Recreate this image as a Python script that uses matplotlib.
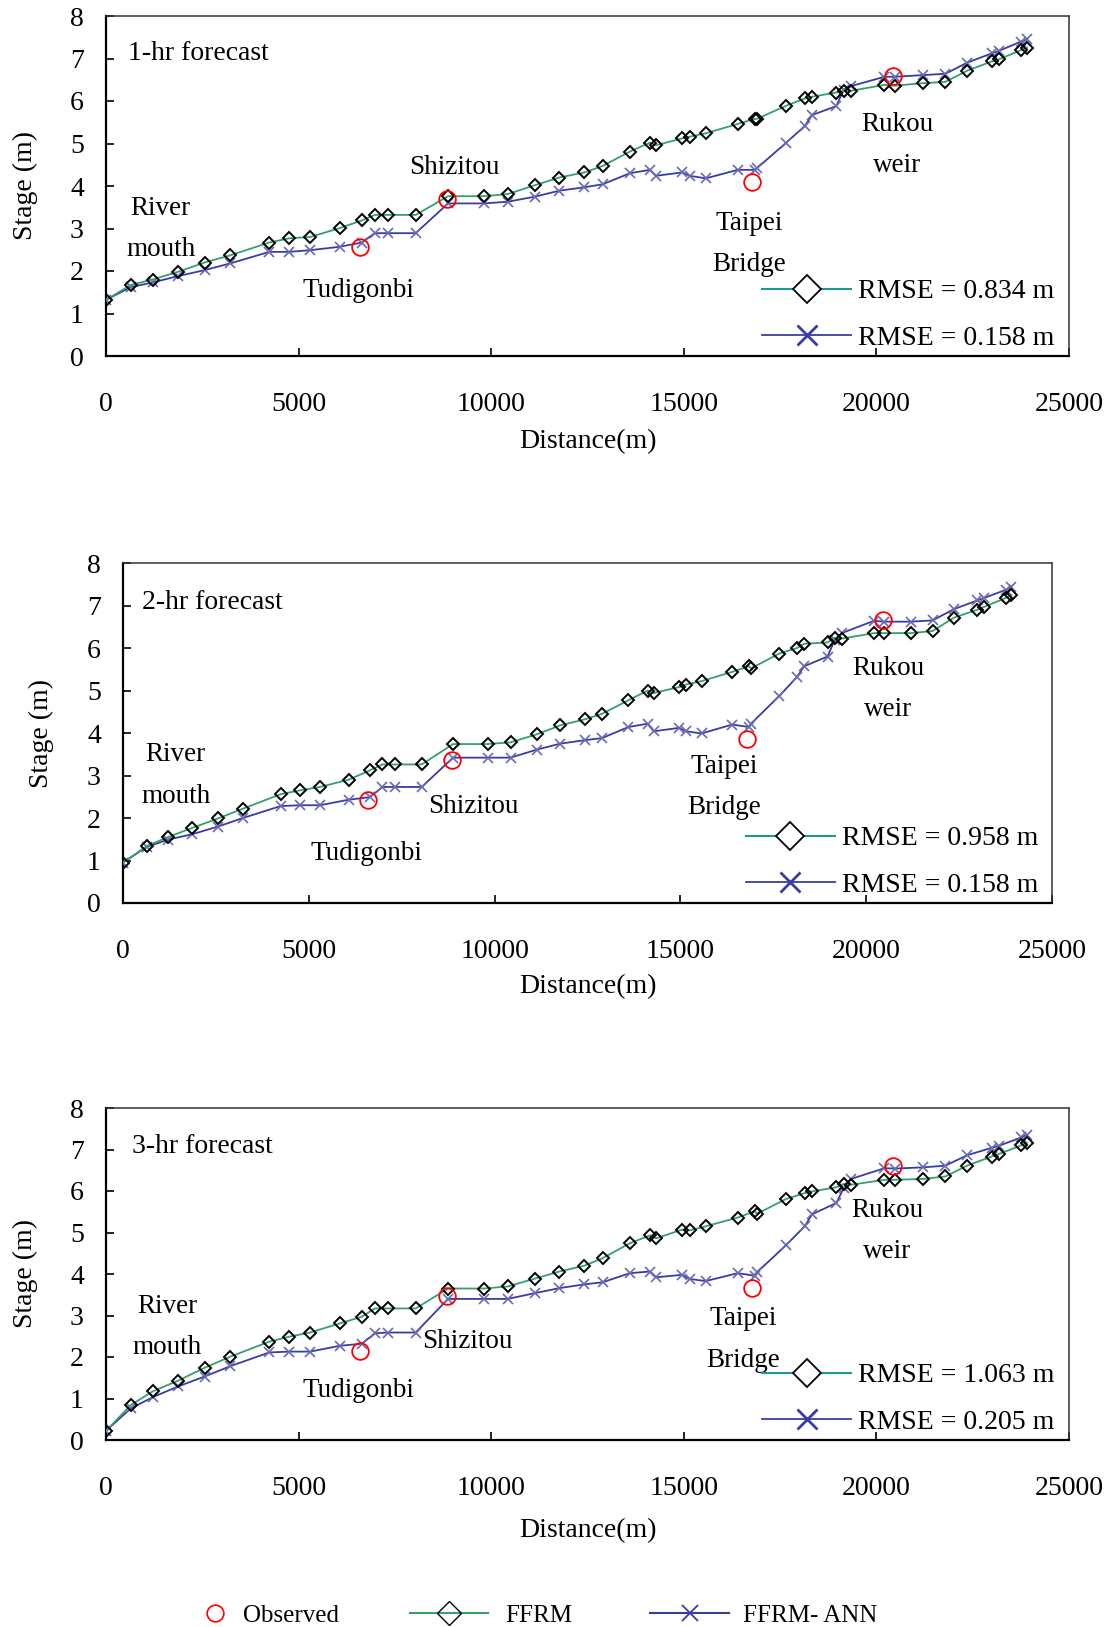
import numpy as np
import matplotlib
matplotlib.use('Agg')
import matplotlib.pyplot as plt
from matplotlib.lines import Line2D

plt.rcParams['font.family'] = ['Liberation Serif', 'DejaVu Serif']

# distance of each computational section (m)
dist = [0, 640, 1210, 1870, 2560, 3230, 4240, 4760, 5300, 6070,
        6640, 6980, 7310, 8040, 8880, 9810, 10430, 11140, 11770, 12420,
        12890, 13600, 14120, 14280, 14960, 15150, 15570, 16400, 16840, 16900,
        17660, 18140, 18330, 18960, 19150, 19340, 20210, 20480, 21210, 21790,
        22350, 22990, 23180, 23760, 23910]

# 1-hr forecast
ffrm_1 = [1.32, 1.67, 1.80, 1.98, 2.20, 2.37, 2.67, 2.77, 2.80, 3.01,
          3.19, 3.32, 3.32, 3.32, 3.76, 3.76, 3.81, 4.02, 4.20, 4.32,
          4.47, 4.81, 5.02, 4.96, 5.12, 5.16, 5.24, 5.46, 5.58, 5.58,
          5.89, 6.06, 6.10, 6.20, 6.24, 6.24, 6.38, 6.36, 6.42, 6.45,
          6.71, 6.93, 6.98, 7.20, 7.25]
ann_1 = [1.32, 1.62, 1.73, 1.88, 2.02, 2.18, 2.45, 2.45, 2.49, 2.57,
         2.67, 2.89, 2.89, 2.89, 3.59, 3.59, 3.63, 3.75, 3.89, 3.97,
         4.04, 4.30, 4.38, 4.24, 4.32, 4.24, 4.18, 4.38, 4.38, 4.42,
         5.02, 5.41, 5.67, 5.88, 6.27, 6.35, 6.57, 6.57, 6.61, 6.64,
         6.90, 7.12, 7.18, 7.40, 7.45]
obs_1 = [2.57, 3.69, 4.10, 6.59]

# 2-hr forecast
ffrm_2 = [0.95, 1.34, 1.55, 1.77, 1.99, 2.22, 2.56, 2.65, 2.73, 2.90,
          3.12, 3.26, 3.26, 3.26, 3.74, 3.74, 3.78, 3.97, 4.18, 4.32,
          4.45, 4.77, 5.00, 4.94, 5.08, 5.14, 5.22, 5.44, 5.57, 5.52,
          5.87, 6.00, 6.10, 6.13, 6.24, 6.22, 6.35, 6.35, 6.35, 6.40,
          6.71, 6.90, 6.97, 7.18, 7.24]
ann_2 = [0.95, 1.32, 1.49, 1.62, 1.80, 2.00, 2.28, 2.30, 2.30, 2.43,
         2.49, 2.73, 2.73, 2.73, 3.42, 3.42, 3.42, 3.61, 3.75, 3.83,
         3.88, 4.14, 4.22, 4.04, 4.12, 4.04, 3.99, 4.20, 4.14, 4.22,
         4.87, 5.32, 5.57, 5.80, 6.18, 6.35, 6.64, 6.62, 6.62, 6.65,
         6.91, 7.12, 7.18, 7.37, 7.44]
obs_2 = [2.43, 3.37, 3.87, 6.67]

# 3-hr forecast
ffrm_3 = [0.22, 0.84, 1.17, 1.43, 1.74, 2.01, 2.37, 2.49, 2.59, 2.81,
          2.97, 3.17, 3.17, 3.17, 3.65, 3.65, 3.70, 3.89, 4.06, 4.20,
          4.38, 4.74, 4.93, 4.86, 5.07, 5.05, 5.15, 5.36, 5.51, 5.45,
          5.81, 5.95, 5.99, 6.09, 6.17, 6.15, 6.27, 6.27, 6.29, 6.35,
          6.61, 6.83, 6.89, 7.10, 7.16]
ann_3 = [0.22, 0.76, 1.03, 1.29, 1.53, 1.78, 2.11, 2.13, 2.13, 2.27,
         2.32, 2.57, 2.59, 2.59, 3.40, 3.40, 3.40, 3.54, 3.66, 3.75,
         3.80, 4.02, 4.06, 3.92, 3.98, 3.88, 3.83, 4.02, 3.96, 4.04,
         4.70, 5.15, 5.44, 5.71, 6.07, 6.29, 6.55, 6.54, 6.57, 6.61,
         6.86, 7.04, 7.09, 7.29, 7.36]
obs_3 = [2.15, 3.48, 3.66, 6.61]

# observed stations: Tudigonbi, Shizitou, Taipei Bridge, Rukou weir
obs_dist = [6600, 8850, 16780, 20440]

titles = ['1-hr forecast', '2-hr forecast', '3-hr forecast']
rmse_ffrm = ['RMSE = 0.834 m', 'RMSE = 0.958 m', 'RMSE = 1.063 m']
rmse_ann = ['RMSE = 0.158 m', 'RMSE = 0.158 m', 'RMSE = 0.205 m']

green = '#35a06c'
teal = '#1b9a94'
blue = '#3b3ba2'
xblue = '#6a6ab4'

W, H = 1111, 1627
fig = plt.figure(figsize=(W / 100, H / 100), dpi=100)

# axes boxes in pixels: left, right, top, bottom
boxes = [(106, 1069, 16, 356), (123, 1052, 563, 903), (106, 1069, 1108, 1440)]
ylab_x = [-0.084, -0.088, -0.084]
xlab_y = [-0.253, -0.247, -0.274]

# label positions (x, y) in data units for each panel
lab_pos = [
    {'title': (560, 7.12), 'river': (1420, 2.99), 'tudi': (6550, 1.55),
     'shiz': (9050, 4.43), 'taipei': (16700, 2.64), 'rukou': (20540, 4.97)},
    {'title': (500, 7.06), 'river': (1420, 3.00), 'tudi': (6560, 1.17),
     'shiz': (9420, 2.26), 'taipei': (16180, 2.73), 'rukou': (20590, 5.04)},
    {'title': (665, 7.08), 'river': (1580, 2.72), 'tudi': (6550, 1.19),
     'shiz': (9390, 2.37), 'taipei': (16530, 2.42), 'rukou': (20280, 5.03)},
]

data = [(ffrm_1, ann_1, obs_1), (ffrm_2, ann_2, obs_2), (ffrm_3, ann_3, obs_3)]

fs_txt = 19.5
for i, (ffrm, ann, obs) in enumerate(data):
    l, r, t, b = boxes[i]
    ax = fig.add_axes([l / W, 1 - b / H, (r - l) / W, (b - t) / H])

    ax.plot(dist, ann, color=blue, lw=1.3, marker='x', ms=7.5,
            mec=xblue, mew=1.2, zorder=3)
    ax.plot(dist, ffrm, color=green, lw=1.3, marker='D', ms=6,
            mfc='none', mec='black', mew=1.4, zorder=4)
    ax.plot(obs_dist, obs, ls='none', marker='o', ms=12, mfc='none',
            mec='red', mew=1.3, zorder=5)

    ax.set_xlim(0, 25000)
    ax.set_ylim(0, 8)
    ax.set_xticks(np.arange(0, 25001, 5000))
    ax.set_yticks(np.arange(0, 9, 1))
    ax.tick_params(direction='in', length=6, width=1.2, labelsize=20,
                   top=False, right=False)
    ax.tick_params(axis='y', pad=16)
    ax.tick_params(axis='x', pad=26)
    for s in ['left', 'bottom']:
        ax.spines[s].set_linewidth(1.6)
    for s in ['top', 'right']:
        ax.spines[s].set_linewidth(1.1)
        ax.spines[s].set_color('#333333')

    ax.set_ylabel('Stage (m)', fontsize=20)
    ax.yaxis.set_label_coords(ylab_x[i], 0.5)
    ax.yaxis.label.set_va('center')
    ax.set_xlabel('Distance(m)', fontsize=20)
    ax.xaxis.set_label_coords(0.5, xlab_y[i])
    ax.xaxis.label.set_va('center')

    p = lab_pos[i]
    ax.text(*p['title'], titles[i], fontsize=20, va='center')
    ax.text(*p['river'], 'River\nmouth', fontsize=fs_txt, ha='center',
            va='center', linespacing=1.85)
    ax.text(*p['tudi'], 'Tudigonbi', fontsize=fs_txt, ha='center', va='center')
    ax.text(*p['shiz'], 'Shizitou', fontsize=fs_txt, ha='center', va='center')
    ax.text(*p['taipei'], 'Taipei\nBridge', fontsize=fs_txt, ha='center',
            va='center', linespacing=1.85)
    ax.text(*p['rukou'], 'Rukou\nweir', fontsize=fs_txt, ha='center',
            va='center', linespacing=1.85)

    handles = [Line2D([], [], color=teal, lw=1.5, marker='D', ms=14,
                      mfc='white', mec='black', mew=1.3),
               Line2D([], [], color=blue, lw=1.3, marker='x', ms=14,
                      mec=blue, mew=2)]
    ax.legend(handles, [rmse_ffrm[i], rmse_ann[i]], loc='lower right',
              bbox_to_anchor=(0.985, 0.016), frameon=False, fontsize=20,
              handlelength=3.2, handletextpad=0.25, labelspacing=0.75,
              borderpad=0, borderaxespad=0)

# bottom legend, one entry per legend so each sits where the reference has it
fs_leg = 18
y_leg = 0.0068
entries = [
    (Line2D([], [], ls='none', marker='o', ms=12, mfc='none', mec='red',
            mew=1.2), 'Observed', 202, 1.0, 0.62),
    (Line2D([], [], color=green, lw=1.5, marker='D', ms=12, mfc='none',
            mec='black', mew=1.0), 'FFRM', 410, 3.12, 0.68),
    (Line2D([], [], color=blue, lw=1.5, marker='x', ms=12, mec=blue,
            mew=1.3), 'FFRM- ANN', 650, 3.16, 0.56),
]
for h, lab, x0, hl, tp in entries:
    fig.legend([h], [lab], loc='center left', bbox_to_anchor=(x0 / W, y_leg),
               frameon=False, fontsize=fs_leg, handlelength=hl,
               handletextpad=tp, borderpad=0, borderaxespad=0)

fig.savefig('out.png', dpi=100)
